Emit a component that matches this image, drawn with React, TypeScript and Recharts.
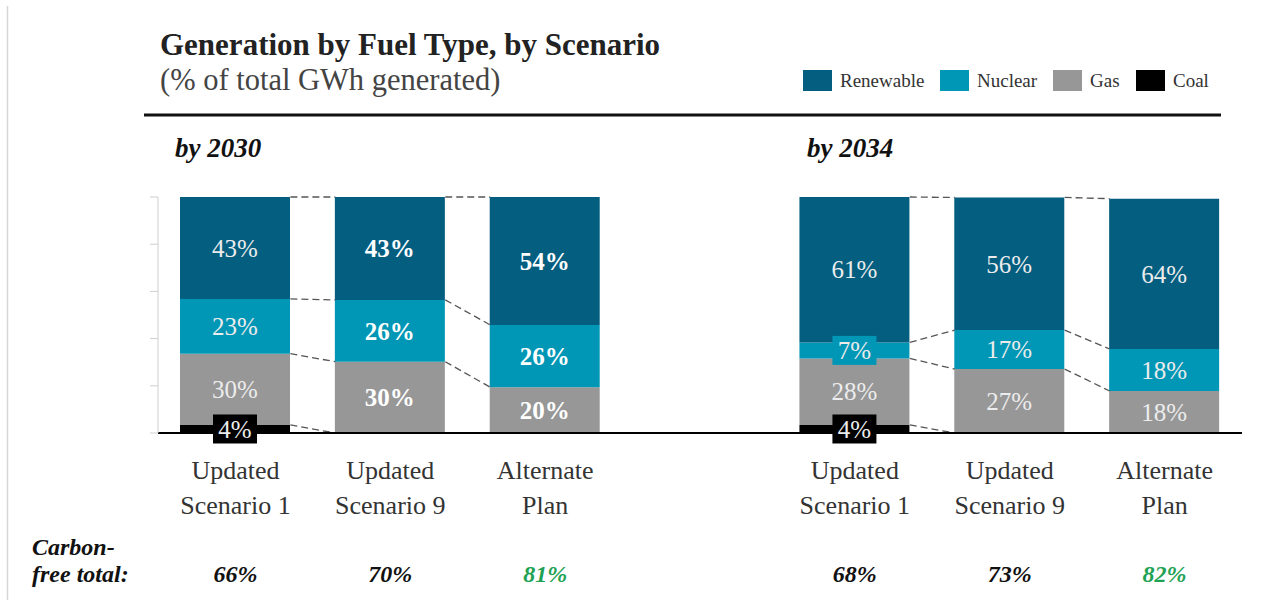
import React from 'react';
import { BarChart, Bar, XAxis, YAxis, LabelList, ReferenceLine } from 'recharts';

// ---------- data ----------
const positions = [0, 1, 2, 4, 5, 6];
const line1 = ['Updated', 'Updated', 'Alternate', 'Updated', 'Updated', 'Alternate'];
const line2 = ['Scenario 1', 'Scenario 9', 'Plan', 'Scenario 1', 'Scenario 9', 'Plan'];
const coal = [3.4, 0, 0, 3.4, 0, 0];
const gas = [30.2, 30.2, 19.4, 28.2, 27.1, 17.8];
const nuclear = [23.2, 26.2, 26.4, 6.8, 16.5, 17.8];
const renewable = [43.2, 43.6, 54.2, 61.6, 56.2, 63.7];
const coalLabels = ['4%', '', '', '4%', '', ''];
const gasLabels = ['30%', '30%', '20%', '28%', '27%', '18%'];
const nuclearLabels = ['23%', '26%', '26%', '7%', '17%', '18%'];
const renewableLabels = ['43%', '43%', '54%', '61%', '56%', '64%'];
const carbonFree = ['66%', '70%', '81%', '68%', '73%', '82%'];
const panelTitles = ['by 2030', 'by 2034'];
const panelGroups = [[0, 1, 2], [3, 4, 5]];
const yTicks = [0, 20, 40, 60, 80, 100];
const legendNames = ['Renewable', 'Nuclear', 'Gas', 'Coal'];

// ---------- styles ----------
const C_REN = '#035e80';
const C_NUC = '#0096b5';
const C_GAS = '#979797';
const C_COAL = '#000000';
const GREEN = '#1fa254';
const SERIF = '"Liberation Serif", "Times New Roman", serif';
const BOLD_LABEL = new Set([1, 2]);
const GREEN_TOTAL = new Set([2, 5]);
const BAR_SIZE = 110;
const UNIT_PX = 155;
const HALF = BAR_SIZE / 2 / UNIT_PX;

const data = positions.map((x, i) => ({
  x,
  key: 'k' + i,
  coal: coal[i],
  gas: gas[i],
  nuclear: nuclear[i],
  renewable: renewable[i],
}));

const cumLevels = positions.map((_, i) => [
  coal[i],
  coal[i] + gas[i],
  coal[i] + gas[i] + nuclear[i],
  coal[i] + gas[i] + nuclear[i] + renewable[i],
]);

const segments: { x1: number; y1: number; x2: number; y2: number }[] = [];
panelGroups.forEach((g) => {
  for (let k = 0; k < g.length - 1; k++) {
    const a = g[k];
    const b = g[k + 1];
    for (let l = 0; l < 4; l++) {
      const ya = cumLevels[a][l];
      const yb = cumLevels[b][l];
      if (ya === 0 && yb === 0) continue;
      segments.push({ x1: positions[a] + HALF, y1: ya, x2: positions[b] - HALF, y2: yb });
    }
  }
});

const makeLabel = (labels: string[], fill: string) => (props: any) => {
  const vb = props.viewBox ?? props;
  const x = props.x ?? vb.x;
  const y = props.y ?? vb.y;
  const width = props.width ?? vb.width;
  const height = props.height ?? vb.height;
  const index = parseInt(String(props.value).slice(1), 10);
  const text = labels[index];
  if (!text) return null;
  const cx = x + width / 2;
  const cy = y + height / 2;
  const bold = BOLD_LABEL.has(index);
  const small = Math.abs(height) < 26;
  return (
    <g>
      {small && <rect x={cx - 22} y={cy - 14.5} width={44} height={29} fill={fill} />}
      <text
        x={cx}
        y={cy}
        dy="0.35em"
        textAnchor="middle"
        fontFamily={SERIF}
        fontSize={25}
        fontWeight={bold ? 700 : 400}
        fill={bold ? '#ffffff' : '#ececec'}
      >
        {text}
      </text>
    </g>
  );
};

const CategoryTick = (props: any) => {
  const { x, y, payload } = props;
  const i = positions.indexOf(payload.value);
  if (i < 0) return null;
  return (
    <g>
      <text x={x} y={y + 46} textAnchor="middle" fontFamily={SERIF} fontSize={26} fill="#333">
        {line1[i]}
      </text>
      <text x={x} y={y + 81} textAnchor="middle" fontFamily={SERIF} fontSize={26} fill="#333">
        {line2[i]}
      </text>
      <text
        x={x}
        y={y + 149}
        textAnchor="middle"
        fontFamily={SERIF}
        fontSize={24}
        fontStyle="italic"
        fontWeight={700}
        fill={GREEN_TOTAL.has(i) ? GREEN : '#111'}
      >
        {carbonFree[i]}
      </text>
    </g>
  );
};

const EmptyTick = () => <g />;

const legendColors = [C_REN, C_NUC, C_GAS, C_COAL];
const legendX = [803, 940, 1053, 1136];

export default function App() {
  return (
    <div style={{ position: 'absolute', left: 0, top: 0, width: 1268, height: 600, background: '#fff' }}>
      <BarChart
        width={1268}
        height={600}
        data={data}
        margin={{ top: 197, right: 26, bottom: 7, left: 148 }}
        barSize={BAR_SIZE}
      >
        <XAxis
          type="number"
          dataKey="x"
          domain={[-0.5, 6.5]}
          ticks={positions}
          interval={0}
          tick={CategoryTick}
          tickLine={false}
          tickSize={0}
          tickMargin={0}
          axisLine={{ stroke: '#000', strokeWidth: 2 }}
          height={160}
          allowDataOverflow
        />
        <YAxis
          type="number"
          domain={[0, 100]}
          ticks={yTicks}
          width={10}
          tickSize={8}
          tick={EmptyTick}
          axisLine={{ stroke: '#cfcfcf' }}
          tickLine={{ stroke: '#cfcfcf' }}
        />
        {segments.map((s, i) => (
          <ReferenceLine
            key={i}
            segment={[{ x: s.x1, y: s.y1 }, { x: s.x2, y: s.y2 }]}
            stroke="#555"
            strokeWidth={1.3}
            strokeDasharray="7 4"
            ifOverflow="visible"
          />
        ))}
        <Bar dataKey="coal" stackId="a" fill={C_COAL} isAnimationActive={false}>
          <LabelList dataKey="key" content={makeLabel(coalLabels, C_COAL)} />
        </Bar>
        <Bar dataKey="gas" stackId="a" fill={C_GAS} isAnimationActive={false}>
          <LabelList dataKey="key" content={makeLabel(gasLabels, C_GAS)} />
        </Bar>
        <Bar dataKey="nuclear" stackId="a" fill={C_NUC} isAnimationActive={false}>
          <LabelList dataKey="key" content={makeLabel(nuclearLabels, C_NUC)} />
        </Bar>
        <Bar dataKey="renewable" stackId="a" fill={C_REN} isAnimationActive={false}>
          <LabelList dataKey="key" content={makeLabel(renewableLabels, C_REN)} />
        </Bar>
      </BarChart>
      <svg
        width={1268}
        height={600}
        style={{ position: 'absolute', left: 0, top: 0, pointerEvents: 'none' }}
      >
        <line x1={7.5} y1={6} x2={7.5} y2={600} stroke="#d6d6d6" strokeWidth={1.5} />
        <text x={160} y={55} fontFamily={SERIF} fontSize={31} fontWeight={700} fill="#222">
          Generation by Fuel Type, by Scenario
        </text>
        <text x={160} y={90} fontFamily={SERIF} fontSize={30.5} fill="#444">
          (% of  total GWh generated)
        </text>
        {legendNames.map((n, i) => (
          <g key={n}>
            <rect x={legendX[i]} y={70} width={29} height={21} fill={legendColors[i]} />
            <text x={legendX[i] + 37} y={87} fontFamily={SERIF} fontSize={19} fill="#333">
              {n}
            </text>
          </g>
        ))}
        <line x1={144} y1={115} x2={1221} y2={115} stroke="#111" strokeWidth={3} />
        <text x={175} y={157} fontFamily={SERIF} fontSize={27} fontWeight={700} fontStyle="italic" fill="#111">
          {panelTitles[0]}
        </text>
        <text x={807} y={157} fontFamily={SERIF} fontSize={27} fontWeight={700} fontStyle="italic" fill="#111">
          {panelTitles[1]}
        </text>
        <text x={32} y={555} fontFamily={SERIF} fontSize={24} fontWeight={700} fontStyle="italic" fill="#111">
          Carbon-
        </text>
        <text x={32} y={582} fontFamily={SERIF} fontSize={24} fontWeight={700} fontStyle="italic" fill="#111">
          free total:
        </text>
      </svg>
    </div>
  );
}
